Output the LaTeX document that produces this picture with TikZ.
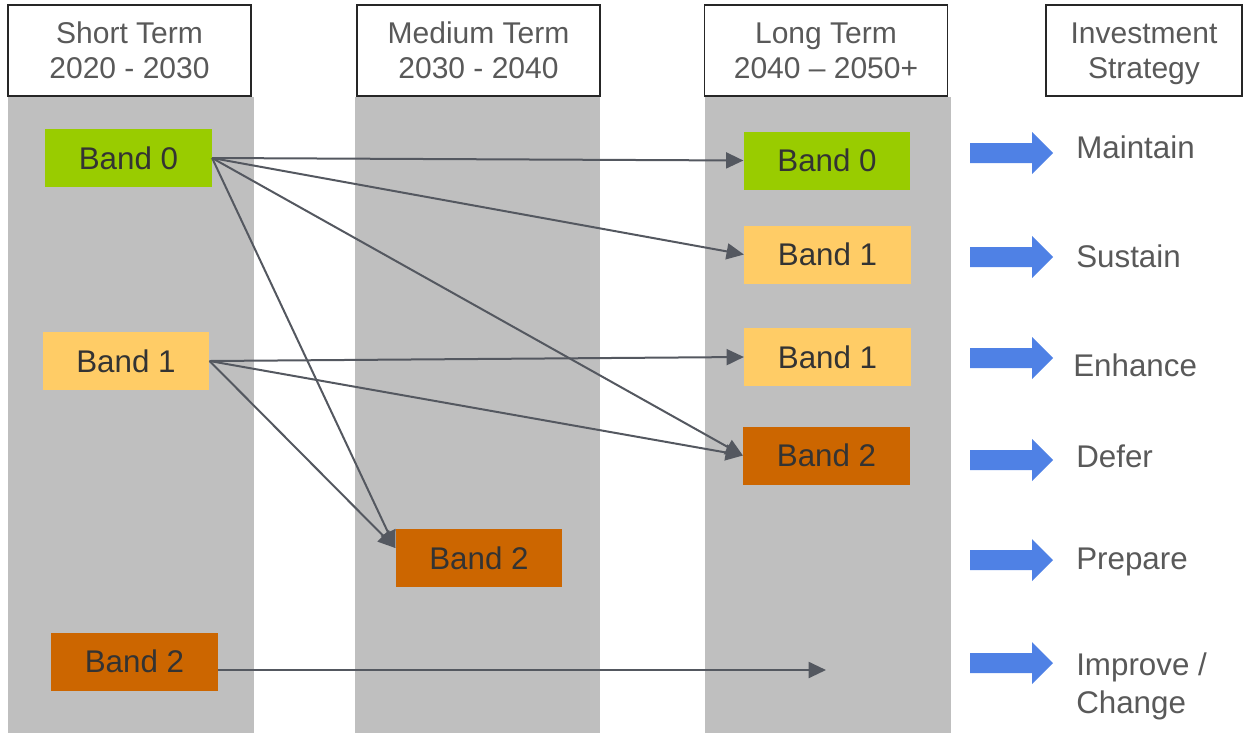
\documentclass[tikz,border=0pt]{standalone}
\usepackage{fontspec}
\setmainfont{Liberation Sans}
\usepackage{tikz}
\usetikzlibrary{calc,arrows.meta}
\usepackage{xcolor}
\definecolor{band_green}{HTML}{99CC00}
\definecolor{band_amber}{HTML}{FFCC66}
\definecolor{band_orange}{HTML}{CC6600}
\definecolor{col_grey}{HTML}{BFBFBF}
\definecolor{line_grey}{HTML}{545860}
\definecolor{head_grey}{HTML}{595959}
\definecolor{strat_blue}{HTML}{4F81E5}

\begin{document}
\begin{tikzpicture}[x=0.75pt, y=-0.75pt,
	band/.style={minimum width=125pt, minimum height=43.5pt, inner sep=0pt, text=black!80, font=\fontsize{23.5}{26}\selectfont},
	header/.style={draw=black!85, line width=1.1pt, fill=white, minimum height=68pt, align=center, text depth=0pt, text=head_grey, inner sep=0pt, font=\fontsize{22.5}{26.25}\selectfont},
	strat/.style={anchor=base west, inner sep=0pt, align=left, text=head_grey, font=\fontsize{23.5}{28.5}\selectfont},
	conn/.style={draw=line_grey, line width=1.5pt, -{Triangle[length=13pt, width=12pt]}}]
	\useasboundingbox (0, 0) rectangle (1243, 733);
	\fill[col_grey] (8, 97) rectangle (254, 733);
	\fill[col_grey] (355, 97) rectangle (600, 733);
	\fill[col_grey] (705, 97) rectangle (951, 733);
	\node[header, minimum width=182pt] (short) at (129.5, 50.5) {Short Term\\2020 - 2030};
	\node[header, minimum width=182pt] (medium) at (478.5, 50.5) {Medium Term\\2030 - 2040};
	\node[header, minimum width=182pt] (long) at (826, 50.5) {Long Term\\2040 -- 2050+};
	\node[header, minimum width=147pt] (invest) at (1144, 50.5) {Investment\\Strategy};
	\node[band, fill=band_green] (s0) at (128.5, 158) {Band 0};
	\node[band, fill=band_amber] (s1) at (126, 361) {Band 1};
	\node[band, fill=band_orange] (s2) at (134.5, 661.5) {Band 2};
	\node[band, fill=band_orange] (m2) at (479, 558) {Band 2};
	\node[band, fill=band_green] (l0) at (827, 160.5) {Band 0};
	\node[band, fill=band_amber] (l1) at (827.5, 254.5) {Band 1};
	\node[band, fill=band_amber] (l1b) at (827.5, 357) {Band 1};
	\node[band, fill=band_orange] (l2) at (826.5, 455.5) {Band 2};
	\coordinate (m2in) at ($(m2.north west)!0.33!(m2.south west)$);
	\coordinate (far) at (826, 670);
	\draw[conn] (s0.east) -- (l0.west);
	\draw[conn] (s0.east) -- (l1.west);
	\draw[conn] (s0.east) -- (l2.west);
	\draw[conn] (s0.east) -- (m2in);
	\draw[conn] (s1.east) -- (l1b.west);
	\draw[conn] (s1.east) -- (l2.west);
	\draw[conn] (s1.east) -- (m2in);
	\draw[conn] (s2.east |- far) -- (far);
	\foreach \y in {153, 257, 358, 460, 560, 663}
		\fill[strat_blue] (970, \y-10) -- (1032, \y-10) -- (1032, \y-21) -- (1053, \y) -- (1032, \y+21) -- (1032, \y+10) -- (970, \y+10) -- cycle;
	\node[strat] (maintain) at (1076, 158) {Maintain};
	\node[strat] (sustain) at (1076, 267) {Sustain};
	\node[strat] (enhance) at (1073, 376) {Enhance};
	\node[strat] (defer) at (1076, 467) {Defer};
	\node[strat] (prepare) at (1076, 569) {Prepare};
	\node[strat] (improve) at (1076, 713) {Improve /\\Change};
\end{tikzpicture}
\end{document}
